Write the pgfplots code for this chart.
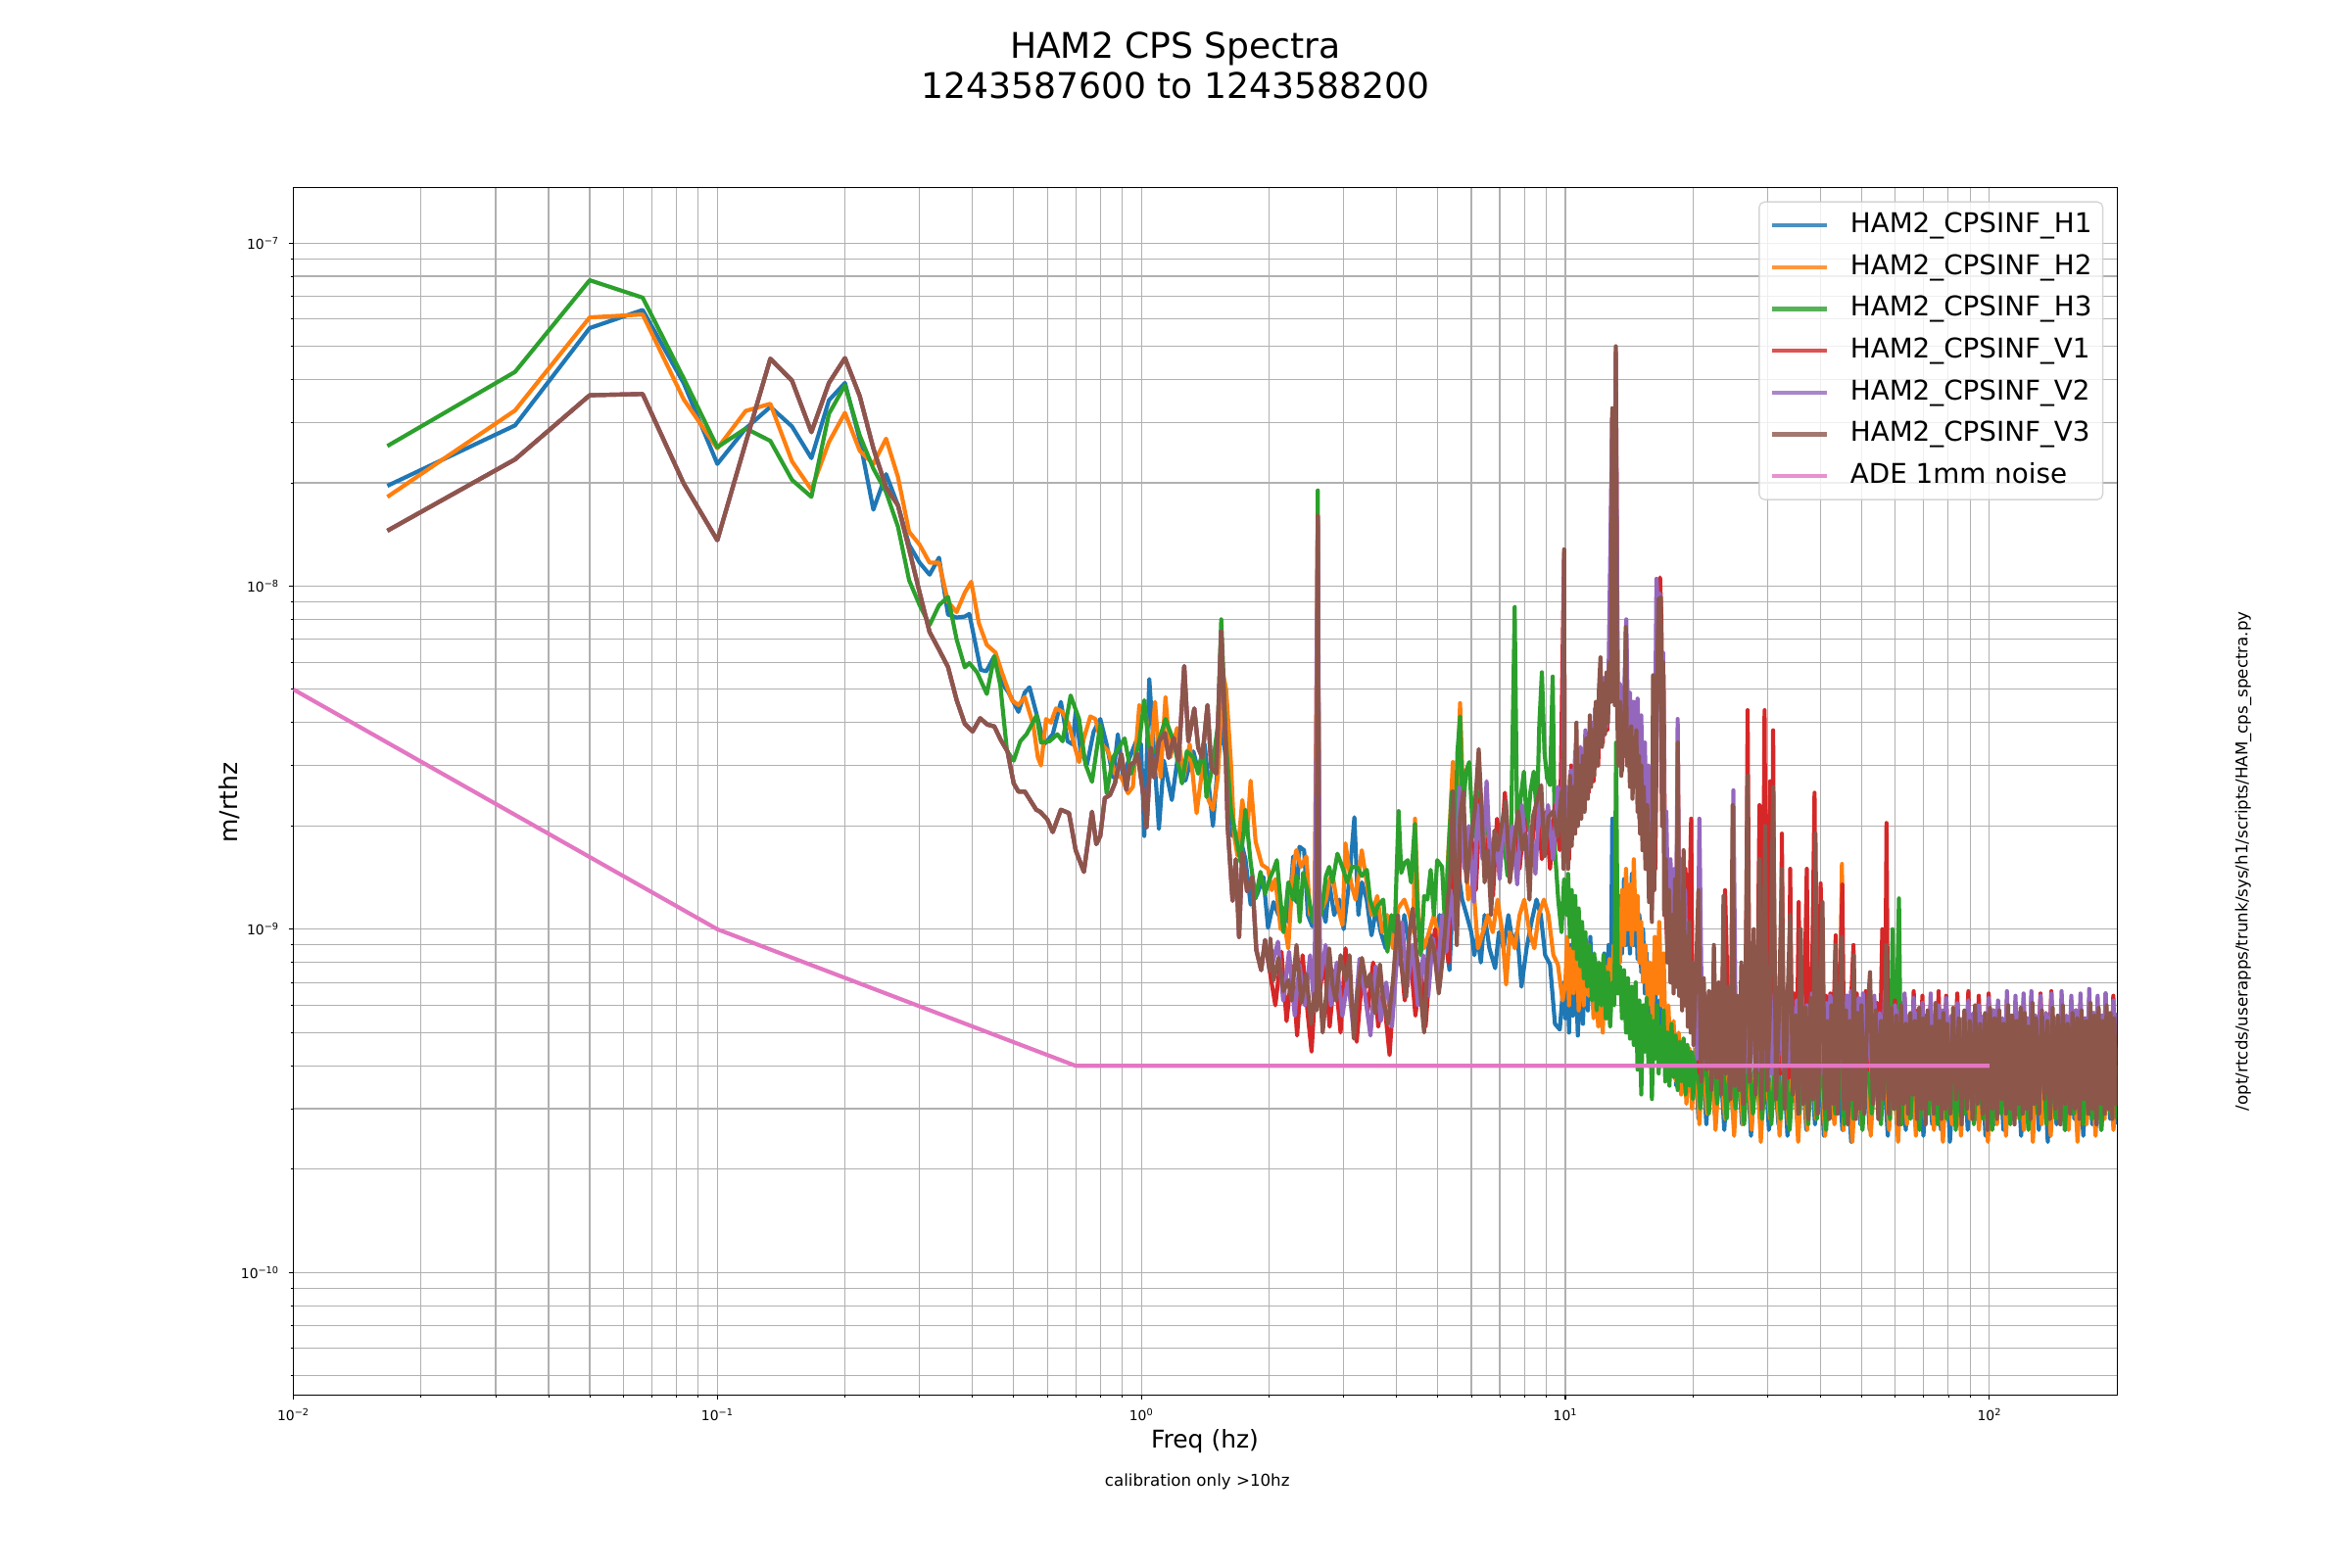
\documentclass[border=0pt]{standalone}
\usepackage{fontspec}
\setmainfont{DejaVu Sans}
\usepackage{pgfplots}
\pgfplotsset{compat=1.18}
\usepackage{pgfplotstable}
\definecolor{cH1}{HTML}{1F77B4}
\definecolor{cH2}{HTML}{FF7F0E}
\definecolor{cH3}{HTML}{2CA02C}
\definecolor{cV1}{HTML}{D62728}
\definecolor{cV2}{HTML}{9467BD}
\definecolor{cV3}{HTML}{8C564B}
\definecolor{cADE}{HTML}{E377C2}
\definecolor{gridc}{HTML}{B0B0B0}

\pgfplotstableread{
f v
0.016667 1.96e-8
0.033333 2.94e-8
0.05 5.65e-8
0.066667 6.38e-8
0.083333 3.9e-8
0.1 2.27e-8
0.116667 2.88e-8
0.133333 3.33e-8
0.15 2.92e-8
0.166667 2.36e-8
0.183333 3.48e-8
0.2 3.91e-8
0.216667 2.67e-8
0.233333 1.67e-8
0.25 2.12e-8
0.266667 1.72e-8
0.283333 1.32e-8
0.3 1.17e-8
0.316667 1.08e-8
0.333333 1.21e-8
0.35 8.26e-9
0.366667 8.1e-9
0.383333 8.15e-9
0.393 8.3e-9
0.418 5.7e-9
0.431 5.65e-9
0.45 6.25e-9
0.469 5.23e-9
0.486 4.9e-9
0.513 4.3e-9
0.531 4.9e-9
0.545 5.07e-9
0.57 4.1e-9
0.59 3.46e-9
0.618 3.7e-9
0.646 4.6e-9
0.67 3.53e-9
0.688 3.46e-9
0.70 4.3e-9
0.719 3.3e-9
0.745 3.03e-9
0.772 3.77e-9
0.80 4.1e-9
0.828 3.46e-9
0.858 2.77e-9
0.88 3.7e-9
0.905 2.77e-9
0.938 3.16e-9
0.972 3.53e-9
0.998 3.46e-9
1.016 1.87e-9
1.044 5.36e-9
1.071 3.3e-9
1.10 1.96e-9
1.13 3.1e-9
1.18 2.38e-9
1.224 3.3e-9
1.27 2.71e-9
1.326 3.3e-9
1.362 2.9e-9
1.41 3.46e-9
1.475 2.0e-9
1.515 3.03e-9
1.549 4.0e-9
1.598 2.77e-9
1.641 1.87e-9
1.70 1.9e-9
1.76 1.6e-9
1.81 1.18e-9
1.874 1.26e-9
1.94 1.42e-9
1.99 1.01e-9
2.05 1.2e-9
2.106 1.1e-9
2.163 1.15e-9
2.221 1.05e-9
2.281 1.63e-9
2.32 1.2e-9
2.36 1.74e-9
2.42 1.7e-9
2.47 1.1e-9
2.53 1.02e-9
2.59 1.1e-9
2.606 1.5e-8
2.625 1.1e-9
2.653 1.2e-9
2.72 1.05e-9
2.773 1.37e-9
2.85 1.1e-9
2.93 1.22e-9
3.0 1.0e-9
3.09 1.37e-9
3.18 2.12e-9
3.25 1.1e-9
3.313 1.37e-9
3.40 1.22e-9
3.49 9.6e-10
3.58 1.15e-9
3.67 9.8e-10
3.77 8.8e-10
3.87 9.2e-10
3.96 1.1e-9
4.07 7.9e-10
4.17 1.1e-9
4.29 8.8e-10
4.41 7.1e-10
4.52 7.9e-10
4.65 5.7e-10
4.77 9.8e-10
4.91 8.8e-10
5.05 1.1e-9
5.20 9.8e-10
5.33 7.6e-10
5.45 1.37e-9
5.57 1.52e-9
5.71 1.22e-9
5.85 1.1e-9
6.0 9.8e-10
6.10 8.4e-10
6.2 9.6e-10
6.32 8.0e-10
6.45 1.1e-9
6.62 8.8e-10
6.83 7.7e-10
6.97 9.8e-10
7.15 8.8e-10
7.34 1.1e-9
7.5 9.2e-10
7.7 9.8e-10
7.88 6.8e-10
8.1 8.8e-10
8.32 1.05e-9
8.55 1.22e-9
8.75 1.1e-9
8.96 8.4e-10
9.2 7.9e-10
9.45 5.3e-10
9.7 5.1e-10
9.9 7.0e-10
10.0 5.5e-10
10.1 8.0e-10
10.2 5.0e-10
10.3 9.0e-10
10.42 5.6e-10
10.55 8.4e-10
10.7 4.9e-10
10.85 7.6e-10
11.0 5.3e-10
11.15 8.8e-10
11.3 5.8e-10
11.45 9.5e-10
11.6 6.2e-10
11.75 8.2e-10
11.9 5.5e-10
12.05 7.8e-10
12.2 5.2e-10
12.35 8.5e-10
12.5 6.0e-10
12.65 9.0e-10
12.8 6.5e-10
12.9 2.1e-9
13.0 7.0e-10
13.15 9.5e-10
13.3 8.0e-10
13.45 1.25e-9
13.6 8.5e-10
13.75 1.4e-9
13.9 9.0e-10
14.05 1.3e-9
14.2 8.5e-10
14.35 1.45e-9
14.5 9.0e-10
14.65 1.2e-9
14.8 8.2e-10
14.95 1.1e-9
15.1 7.5e-10
15.25 1.0e-9
15.4 6.5e-10
15.55 8.5e-10
15.7 5.5e-10
15.9 7.5e-10
16.1 5.0e-10
16.3 6.8e-10
16.5 4.5e-10
16.7 6.2e-10
16.9 4.2e-10
17.1 5.8e-10
17.3 4.0e-10
17.5 5.5e-10
17.75 3.8e-10
18.0 5.2e-10
18.25 3.5e-10
18.5 4.8e-10
18.75 3.4e-10
19.0 4.6e-10
19.3 3.3e-10
19.6 4.4e-10
19.9 3.2e-10
20.2 4.4e-10
20.6 2.8e-10
21.0 4.6e-10
21.5 2.7e-10
22.0 4.3e-10
22.5 2.9e-10
23.1 4.5e-10
23.7 2.6e-10
24.3 4.4e-10
24.9 2.8e-10
25.5 4.2e-10
26.1 2.7e-10
26.7 4.6e-10
27.4 2.5e-10
28.1 4.3e-10
28.8 2.8e-10
29.5 4.4e-10
30.2 2.6e-10
31.0 4.2e-10
31.8 2.7e-10
32.6 4.5e-10
33.4 2.5e-10
34.3 4.3e-10
35.2 2.8e-10
36.1 4.4e-10
37.0 2.6e-10
37.9 4.2e-10
38.8 2.7e-10
39.7 4.5e-10
40.7 2.5e-10
41.7 4.3e-10
42.8 2.8e-10
43.9 4.4e-10
45.0 2.6e-10
46.1 4.2e-10
47.2 2.4e-10
48.4 4.5e-10
49.6 2.7e-10
50.9 4.3e-10
52.2 2.6e-10
53.5 4.4e-10
54.8 2.8e-10
56.2 4.2e-10
57.6 2.5e-10
59.0 4.5e-10
60.5 2.7e-10
62.0 4.3e-10
63.5 2.6e-10
65.0 4.4e-10
66.6 2.8e-10
68.2 4.2e-10
69.9 2.5e-10
71.6 4.5e-10
73.3 2.7e-10
75.1 4.3e-10
76.9 2.6e-10
78.8 4.4e-10
80.7 2.4e-10
82.7 4.2e-10
84.7 2.7e-10
86.8 4.5e-10
88.9 2.6e-10
91.1 4.3e-10
93.3 2.8e-10
95.6 4.4e-10
97.9 2.5e-10
100.3 4.2e-10
102.8 2.7e-10
105.3 4.5e-10
107.9 2.6e-10
110.5 4.3e-10
113.2 2.8e-10
116.0 4.4e-10
118.8 2.5e-10
121.7 4.2e-10
124.7 2.7e-10
127.7 4.5e-10
130.8 2.6e-10
134.0 4.3e-10
137.3 2.4e-10
140.6 4.4e-10
144.0 2.7e-10
147.5 4.2e-10
151.1 2.6e-10
154.8 4.5e-10
158.6 2.8e-10
162.5 4.3e-10
166.5 2.5e-10
170.6 4.4e-10
174.8 2.7e-10
179.1 4.2e-10
183.5 2.6e-10
188.0 4.5e-10
192.6 2.8e-10
197.3 4.3e-10
200 2.7e-10
}\Hone

\pgfplotstableread{
f v
0.016667 1.82e-8
0.033333 3.25e-8
0.05 6.07e-8
0.066667 6.19e-8
0.083333 3.5e-8
0.1 2.52e-8
0.116667 3.24e-8
0.133333 3.4e-8
0.15 2.31e-8
0.166667 1.91e-8
0.183333 2.63e-8
0.2 3.2e-8
0.216667 2.48e-8
0.233333 2.27e-8
0.25 2.69e-8
0.266667 2.08e-8
0.283333 1.44e-8
0.3 1.32e-8
0.316667 1.17e-8
0.333333 1.17e-8
0.35 9.0e-9
0.366667 8.4e-9
0.383333 9.57e-9
0.397 1.03e-8
0.414 7.78e-9
0.432 6.74e-9
0.453 6.4e-9
0.469 5.6e-9
0.495 4.65e-9
0.513 4.5e-9
0.531 4.75e-9
0.556 3.94e-9
0.57 3.17e-9
0.58 3.0e-9
0.596 4.1e-9
0.612 4.0e-9
0.629 4.4e-9
0.652 4.3e-9
0.675 3.94e-9
0.694 3.46e-9
0.713 3.07e-9
0.732 3.6e-9
0.758 4.17e-9
0.779 4.1e-9
0.806 3.46e-9
0.835 3.3e-9
0.866 2.84e-9
0.897 2.77e-9
0.93 2.49e-9
0.955 2.6e-9
0.989 4.5e-9
1.025 4.2e-9
1.053 3.17e-9
1.077 4.6e-9
1.11 2.77e-9
1.14 4.75e-9
1.17 3.17e-9
1.214 3.86e-9
1.258 2.77e-9
1.30 3.46e-9
1.35 2.18e-9
1.40 3.1e-9
1.44 2.38e-9
1.475 2.23e-9
1.515 2.77e-9
1.556 5.6e-9
1.585 5.0e-9
1.627 3.03e-9
1.656 1.87e-9
1.685 1.64e-9
1.73 2.38e-9
1.776 1.87e-9
1.81 2.71e-9
1.86 1.8e-9
1.925 1.54e-9
1.99 1.5e-9
2.03 1.3e-9
2.07 1.4e-9
2.13 1.0e-9
2.16 1.1e-9
2.22 8.8e-10
2.28 1.52e-9
2.32 1.7e-9
2.38 1.52e-9
2.45 1.63e-9
2.50 1.1e-9
2.56 1.1e-9
2.606 1.5e-8
2.63 1.1e-9
2.725 1.22e-9
2.77 1.37e-9
2.82 1.46e-9
2.90 1.17e-9
2.98 1.03e-9
3.03 1.78e-9
3.12 1.37e-9
3.20 1.22e-9
3.31 1.70e-9
3.40 1.37e-9
3.49 1.10e-9
3.60 1.25e-9
3.70 9.8e-10
3.80 1.1e-9
3.92 8.8e-10
4.03 1.15e-9
4.17 1.22e-9
4.29 1.10e-9
4.38 9.8e-10
4.42 2.1e-9
4.50 1.1e-9
4.64 8.8e-10
4.77 9.8e-10
4.90 1.1e-9
5.08 8.8e-10
5.20 1.1e-9
5.35 2.12e-9
5.428 3.07e-9
5.50 1.70e-9
5.645 4.56e-9
5.76 2.12e-9
5.90 1.22e-9
6.06 1.37e-9
6.22 8.8e-10
6.39 9.8e-10
6.57 1.1e-9
6.74 9.8e-10
6.92 1.22e-9
7.10 9.8e-10
7.25 6.9e-10
7.40 9.8e-10
7.60 8.8e-10
7.80 1.1e-9
8.00 1.22e-9
8.23 9.8e-10
8.45 8.8e-10
8.65 1.1e-9
8.90 1.22e-9
9.12 1.1e-9
9.37 8.4e-10
9.6 7.9e-10
9.85 6.2e-10
10.0 7.0e-10
10.1 9.5e-10
10.2 6.0e-10
10.32 8.8e-10
10.45 6.5e-10
10.6 9.8e-10
10.75 5.8e-10
10.9 8.6e-10
11.05 6.0e-10
11.2 9.2e-10
11.35 6.4e-10
11.5 8.0e-10
11.65 5.5e-10
11.8 7.5e-10
11.95 5.2e-10
12.1 7.2e-10
12.25 5.0e-10
12.4 7.8e-10
12.55 5.5e-10
12.7 8.2e-10
12.85 6.2e-10
13.0 9.0e-10
13.15 7.0e-10
13.3 1.1e-9
13.45 8.0e-10
13.6 1.3e-9
13.75 9.0e-10
13.9 1.5e-9
14.05 1.0e-9
14.2 1.35e-9
14.35 9.0e-10
14.5 1.6e-9
14.65 1.0e-9
14.8 1.25e-9
14.95 8.0e-10
15.1 1.05e-9
15.25 7.0e-10
15.45 9.0e-10
15.65 6.0e-10
15.85 8.0e-10
16.05 5.5e-10
16.25 9.5e-10
16.45 6.5e-10
16.65 1.05e-9
16.85 6.0e-10
17.05 8.5e-10
17.25 4.5e-10
17.5 6.0e-10
17.75 3.9e-10
18.0 5.4e-10
18.25 3.6e-10
18.5 5.0e-10
18.75 3.3e-10
19.0 4.8e-10
19.3 3.1e-10
19.6 4.5e-10
19.9 3.0e-10
20.3 4.5e-10
20.7 2.7e-10
21.1 4.3e-10
21.6 2.9e-10
22.1 4.6e-10
22.6 2.6e-10
23.2 4.4e-10
23.8 2.8e-10
24.4 4.2e-10
25.0 2.5e-10
25.6 4.5e-10
26.2 2.7e-10
26.9 4.3e-10
27.5 2.6e-10
28.2 4.4e-10
28.9 2.4e-10
29.6 4.2e-10
30.4 2.8e-10
31.2 4.5e-10
32.0 2.5e-10
32.8 4.3e-10
33.6 2.7e-10
34.5 4.4e-10
35.4 2.4e-10
36.3 4.2e-10
37.2 2.6e-10
38.1 4.5e-10
39.0 2.8e-10
40.0 4.3e-10
41.0 2.5e-10
42.0 4.4e-10
43.1 2.7e-10
44.2 4.2e-10
44.9 1.55e-9
45.3 2.6e-10
46.4 4.5e-10
47.5 2.4e-10
48.7 4.3e-10
49.9 2.7e-10
51.2 4.4e-10
52.5 2.5e-10
53.8 4.2e-10
55.2 2.8e-10
56.6 4.5e-10
58.0 2.6e-10
59.4 4.3e-10
60.9 2.4e-10
62.4 4.4e-10
63.9 2.7e-10
65.5 4.2e-10
67.1 2.5e-10
68.8 4.5e-10
70.5 2.8e-10
72.2 4.3e-10
74.0 2.6e-10
75.8 4.4e-10
77.7 2.4e-10
79.6 4.2e-10
81.6 2.7e-10
83.6 4.5e-10
85.7 2.5e-10
87.8 4.3e-10
90.0 2.8e-10
92.2 4.4e-10
94.5 2.6e-10
96.8 4.2e-10
99.2 2.4e-10
101.7 4.5e-10
104.2 2.7e-10
106.8 4.3e-10
109.4 2.5e-10
112.1 4.4e-10
114.9 2.8e-10
117.7 4.2e-10
120.6 2.6e-10
123.6 4.5e-10
126.6 2.4e-10
129.7 4.3e-10
132.9 2.7e-10
136.2 4.4e-10
139.5 2.5e-10
142.9 4.2e-10
146.4 2.8e-10
150.0 4.5e-10
153.7 2.6e-10
157.5 4.3e-10
161.4 2.4e-10
165.4 4.4e-10
169.5 2.7e-10
173.7 4.2e-10
178.0 2.5e-10
182.4 4.5e-10
186.9 2.8e-10
191.5 4.3e-10
196.2 2.6e-10
200 4.0e-10
}\Htwo

\pgfplotstableread{
f v
0.016667 2.56e-8
0.033333 4.21e-8
0.05 7.79e-8
0.066667 6.93e-8
0.083333 4.03e-8
0.1 2.54e-8
0.116667 2.88e-8
0.133333 2.65e-8
0.15 2.04e-8
0.166667 1.82e-8
0.183333 3.18e-8
0.2 3.85e-8
0.216667 2.75e-8
0.233333 2.2e-8
0.25 1.88e-8
0.266667 1.49e-8
0.283333 1.04e-8
0.3 8.8e-9
0.316667 7.7e-9
0.333333 8.8e-9
0.35 9.3e-9
0.366667 7.0e-9
0.383333 5.8e-9
0.393 5.97e-9
0.41 5.6e-9
0.432 4.85e-9
0.45 6.25e-9
0.465 5.13e-9
0.482 3.31e-9
0.50 3.1e-9
0.518 3.53e-9
0.536 3.7e-9
0.566 4.2e-9
0.58 3.5e-9
0.607 3.53e-9
0.634 3.7e-9
0.652 3.53e-9
0.681 4.8e-9
0.713 4.1e-9
0.738 3.03e-9
0.765 2.69e-9
0.80 3.94e-9
0.828 2.49e-9
0.858 3.17e-9
0.913 3.6e-9
0.946 2.84e-9
0.989 3.53e-9
1.016 4.65e-9
1.044 3.3e-9
1.081 3.3e-9
1.14 4.1e-9
1.192 3.53e-9
1.247 2.66e-9
1.28 3.3e-9
1.326 3.17e-9
1.362 2.84e-9
1.40 3.46e-9
1.424 2.43e-9
1.475 3.03e-9
1.515 3.94e-9
1.543 8.0e-9
1.585 3.46e-9
1.627 2.23e-9
1.67 1.87e-9
1.715 1.57e-9
1.76 2.23e-9
1.81 1.57e-9
1.86 1.23e-9
1.91 1.47e-9
1.958 1.27e-9
2.01 1.41e-9
2.05 1.49e-9
2.087 1.59e-9
2.163 9.8e-10
2.221 1.37e-9
2.281 1.22e-9
2.322 1.43e-9
2.364 1.05e-9
2.406 1.46e-9
2.471 1.28e-9
2.537 1.05e-9
2.59 1.3e-9
2.606 1.9e-8
2.625 1.3e-9
2.653 1.10e-9
2.725 1.43e-9
2.773 1.52e-9
2.823 1.37e-9
2.900 1.66e-9
2.978 1.52e-9
3.058 1.37e-9
3.141 1.52e-9
3.226 1.52e-9
3.313 1.43e-9
3.402 1.49e-9
3.463 1.22e-9
3.557 1.10e-9
3.61 1.17e-9
3.719 1.22e-9
3.805 8.6e-10
3.888 1.10e-9
3.958 9.8e-10
4.043 2.21e-9
4.101 1.46e-9
4.174 1.56e-9
4.249 1.59e-9
4.325 1.37e-9
4.417 2.03e-9
4.481 1.10e-9
4.561 8.4e-10
4.644 1.25e-9
4.727 1.22e-9
4.811 1.49e-9
4.897 1.10e-9
4.985 1.59e-9
5.119 1.52e-9
5.211 9.8e-10
5.304 1.70e-9
5.398 2.52e-9
5.495 1.78e-9
5.564 3.28e-9
5.645 4.17e-9
5.726 2.12e-9
5.828 2.88e-9
5.933 3.07e-9
6.060 1.86e-9
6.169 2.63e-9
6.281 1.94e-9
6.393 1.63e-9
6.508 2.31e-9
6.624 1.78e-9
6.743 1.43e-9
6.864 1.86e-9
6.988 1.52e-9
7.112 2.03e-9
7.304 1.43e-9
7.435 1.70e-9
7.595 8.69e-9
7.705 1.70e-9
7.843 2.41e-9
7.984 2.88e-9
8.127 1.94e-9
8.271 2.52e-9
8.420 2.88e-9
8.570 2.12e-9
8.678 3.91e-9
8.802 5.61e-9
8.927 3.28e-9
9.055 2.75e-9
9.202 2.63e-9
9.333 5.45e-9
9.449 1.70e-9
9.619 1.22e-9
9.792 9.8e-10
9.93 1.4e-9
10.06 1.1e-9
10.15 1.45e-9
10.25 9.5e-10
10.35 1.3e-9
10.45 8.8e-10
10.55 1.25e-9
10.65 8.2e-10
10.75 1.15e-9
10.85 7.8e-10
10.95 1.05e-9
11.05 7.2e-10
11.15 9.8e-10
11.25 6.8e-10
11.4 9.0e-10
11.55 6.2e-10
11.7 8.5e-10
11.85 5.8e-10
12.0 8.0e-10
12.15 6.0e-10
12.3 8.4e-10
12.45 5.5e-10
12.6 7.5e-10
12.75 5.2e-10
12.9 7.0e-10
13.05 6.0e-10
13.17 3.5e-9
13.3 6.5e-10
13.45 7.8e-10
13.6 5.5e-10
13.75 7.6e-10
13.9 5.0e-10
14.05 7.2e-10
14.2 4.8e-10
14.35 6.8e-10
14.5 4.6e-10
14.65 7.0e-10
14.8 3.9e-10
14.95 6.2e-10
15.1 3.3e-10
15.25 6.0e-10
15.4 4.4e-10
15.55 6.3e-10
15.7 4.0e-10
15.85 5.6e-10
16.0 3.2e-10
16.15 5.4e-10
16.3 4.2e-10
16.45 6.0e-10
16.6 3.8e-10
16.75 5.2e-10
16.9 4.0e-10
17.05 5.8e-10
17.2 3.6e-10
17.4 5.0e-10
17.6 3.5e-10
17.8 5.3e-10
18.0 3.7e-10
18.2 4.9e-10
18.4 3.4e-10
18.6 4.7e-10
18.8 3.6e-10
19.0 4.8e-10
19.2 3.3e-10
19.4 4.6e-10
19.6 3.5e-10
19.8 4.4e-10
20.0 3.2e-10
20.4 4.6e-10
20.8 3.0e-10
21.3 4.8e-10
21.8 2.9e-10
22.3 4.4e-10
22.8 3.1e-10
23.4 4.7e-10
24.0 2.8e-10
24.6 4.5e-10
25.2 3.0e-10
25.8 4.3e-10
26.4 2.7e-10
27.0 4.6e-10
27.7 2.9e-10
28.4 4.4e-10
29.1 2.8e-10
29.8 4.2e-10
30.6 2.7e-10
31.4 4.5e-10
32.2 2.8e-10
33.0 4.3e-10
33.8 2.6e-10
34.7 4.4e-10
35.6 2.9e-10
36.5 4.2e-10
37.4 2.7e-10
38.3 4.6e-10
39.2 2.8e-10
40.2 4.3e-10
41.2 2.6e-10
42.2 4.4e-10
43.3 2.9e-10
44.4 4.2e-10
45.5 2.7e-10
46.6 4.5e-10
47.8 2.8e-10
49.0 4.3e-10
50.2 2.6e-10
51.5 4.4e-10
52.8 2.9e-10
54.1 4.2e-10
55.5 2.7e-10
56.9 4.6e-10
58.3 2.8e-10
59.1 1.0e-9
59.8 3.0e-10
61.2 1.23e-9
62.0 2.7e-10
63.5 4.3e-10
65.1 2.8e-10
66.7 4.4e-10
68.4 2.6e-10
70.1 4.2e-10
71.9 2.9e-10
73.7 4.5e-10
75.5 2.7e-10
77.4 4.3e-10
79.3 2.8e-10
81.3 4.4e-10
83.3 2.6e-10
85.4 4.2e-10
87.5 2.9e-10
89.7 4.5e-10
91.9 2.7e-10
94.2 4.3e-10
96.6 2.8e-10
99.0 4.4e-10
101.5 2.6e-10
104.0 4.2e-10
106.6 2.9e-10
109.3 4.5e-10
112.0 2.7e-10
114.8 4.3e-10
117.7 2.8e-10
120.6 4.4e-10
123.6 2.6e-10
126.7 4.2e-10
129.9 2.9e-10
133.1 4.5e-10
136.4 2.7e-10
139.8 4.3e-10
143.3 2.8e-10
146.9 4.4e-10
150.6 2.6e-10
154.4 4.2e-10
158.3 2.9e-10
162.3 4.5e-10
166.4 2.7e-10
170.5 4.3e-10
174.8 2.8e-10
179.2 4.4e-10
183.7 2.6e-10
188.3 4.2e-10
193.0 2.9e-10
197.8 4.5e-10
200 2.8e-10
}\Hthree

\pgfplotstableread{
f v
0.016667 1.45e-8
0.033333 2.34e-8
0.05 3.6e-8
0.066667 3.63e-8
0.083333 1.99e-8
0.1 1.36e-8
0.116667 2.62e-8
0.133333 4.6e-8
0.15 3.97e-8
0.166667 2.81e-8
0.183333 3.91e-8
0.2 4.62e-8
0.216667 3.58e-8
0.233333 2.52e-8
0.25 1.94e-8
0.266667 1.72e-8
0.283333 1.28e-8
0.3 9.57e-9
0.316667 7.35e-9
0.333333 6.53e-9
0.35 5.81e-9
0.366667 4.66e-9
0.383333 3.97e-9
0.4 3.77e-9
0.416667 4.12e-9
0.433333 3.95e-9
0.45 3.9e-9
0.466667 3.55e-9
0.483333 3.3e-9
0.5 2.66e-9
0.513 2.52e-9
0.531 2.52e-9
0.565 2.23e-9
0.577 2.2e-9
0.60 2.09e-9
0.618 1.92e-9
0.646 2.23e-9
0.675 2.18e-9
0.70 1.70e-9
0.732 1.47e-9
0.765 2.2e-9
0.783 1.77e-9
0.80 1.87e-9
0.82 2.41e-9
0.843 2.46e-9
0.866 2.66e-9
0.897 3.24e-9
0.922 2.55e-9
0.938 3.0e-9
0.963 3.07e-9
0.98 3.24e-9
1.007 2.55e-9
1.029 1.98e-9
1.053 3.38e-9
1.071 2.77e-9
1.1 3.53e-9
1.136 3.73e-9
1.16 3.16e-9
1.192 3.61e-9
1.224 3.1e-9
1.262 5.85e-9
1.291 3.53e-9
1.333 4.4e-9
1.362 3.38e-9
1.392 3.16e-9
1.432 4.5e-9
1.462 2.96e-9
1.502 2.84e-9
1.543 7.36e-9
1.576 3.77e-9
1.598 2.0e-9
1.641 1.21e-9
1.67 1.6e-9
1.70 9.5e-10
1.73 1.67e-9
1.776 1.29e-9
1.825 1.42e-9
1.867 8.7e-10
1.917 7.6e-10
1.958 9.3e-10
2.01 7.5e-10
}\Vlow

\pgfplotstableread{
f v
2.01 7.5e-10
2.07 6.0e-10
2.14 8.6e-10
2.2 5.4e-10
2.27 7.8e-10
2.33 4.9e-10
2.40 8.4e-10
2.47 5.6e-10
2.52 4.4e-10
2.58 7.2e-10
2.606 1.6e-8
2.63 6.5e-10
2.70 8.2e-10
2.78 5.2e-10
2.86 7.6e-10
2.95 5.0e-10
3.03 8.8e-10
3.12 6.2e-10
3.22 4.7e-10
3.32 7.4e-10
3.42 5.8e-10
3.52 8.0e-10
3.62 5.2e-10
3.72 6.6e-10
3.85 4.3e-10
3.95 7.0e-10
4.05 9.6e-10
4.18 6.2e-10
4.30 8.6e-10
4.43 5.6e-10
4.56 7.8e-10
4.68 5.2e-10
4.80 8.0e-10
4.93 1.0e-9
5.05 6.8e-10
5.18 1.05e-9
5.30 8.0e-10
5.42 1.5e-9
5.55 1.05e-9
5.7 2.0e-9
5.85 1.4e-9
6.0 1.9e-9
6.15 1.3e-9
6.3 2.4e-9
6.45 1.5e-9
6.6 1.9e-9
6.75 1.25e-9
6.9 2.1e-9
7.05 1.6e-9
7.2 2.5e-9
7.4 1.45e-9
7.6 1.9e-9
7.8 1.5e-9
8.0 2.1e-9
8.2 1.4e-9
8.4 1.9e-9
8.6 2.4e-9
8.8 1.6e-9
9.0 2.2e-9
9.2 1.5e-9
9.45 2.3e-9
9.7 1.7e-9
9.93 1.25e-8
9.96 1.6e-9
10.1 2.4e-9
10.2 1.6e-9
10.32 3.0e-9
10.45 1.9e-9
10.6 3.6e-9
10.75 2.1e-9
10.9 3.2e-9
11.05 2.3e-9
11.2 3.4e-9
11.35 2.5e-9
11.5 4.0e-9
11.65 2.7e-9
11.8 4.2e-9
11.95 3.0e-9
12.1 5.8e-9
12.25 3.5e-9
12.4 5.0e-9
12.55 3.8e-9
12.7 5.5e-9
12.9 3.2e-8
13.0 5.2e-9
13.15 4.8e-8
13.3 3.8e-9
13.45 4.4e-9
13.6 2.9e-9
13.75 4.0e-9
13.92 7.0e-9
14.05 3.2e-9
14.2 4.2e-9
14.35 2.7e-9
14.5 4.0e-9
14.65 2.6e-9
14.8 3.6e-9
14.95 2.1e-9
15.1 3.3e-9
15.25 1.8e-9
15.4 2.9e-9
15.6 1.6e-9
15.8 2.2e-9
16.0 1.2e-9
16.15 5.2e-9
16.3 1.5e-9
16.5 7.0e-9
16.6 9.5e-9
16.72 1.06e-8
16.85 8.0e-9
16.95 2.2e-9
17.05 5.5e-9
17.2 1.2e-9
17.4 9.0e-10
17.6 1.4e-9
17.8 7.5e-10
18.0 1.2e-9
18.2 7.0e-10
18.42 3.3e-9
18.6 7.2e-10
18.8 1.3e-9
19.0 6.5e-10
19.2 1.5e-9
19.4 6.0e-10
19.6 1.1e-9
19.8 2.1e-9
19.95 6.0e-10
20.15 5.8e-10
20.75 3.8e-10
21.35 6.3e-10
21.95 4.0e-10
22.55 6.6e-10
23.15 3.7e-10
23.8 1.3e-9
24.35 4.2e-10
24.95 6.4e-10
25.55 3.9e-10
26.15 6.9e-10
26.6 4.1e-10
26.9 4.35e-9
27.2 4.0e-10
27.65 6.5e-10
28.25 3.8e-10
28.7 2.3e-9
29.1 4.0e-10
29.5 4.35e-9
29.8 4.2e-10
30.4 2.7e-9
30.65 4.4e-10
30.9 3.8e-9
31.2 4.0e-10
31.65 6.2e-10
32.15 3.8e-10
32.4 1.9e-9
32.7 4.3e-10
33.15 6.4e-10
33.65 3.7e-10
33.9 1.5e-9
34.2 4.1e-10
34.65 6.5e-10
35.15 3.9e-10
35.5 1.2e-9
35.9 4.2e-10
36.65 6.3e-10
37.1 1.5e-9
37.5 3.8e-10
38.15 6.6e-10
38.7 2.5e-9
39.1 4.0e-10
39.65 6.1e-10
40.0 1.36e-9
40.4 3.9e-10
41.15 6.4e-10
41.65 3.7e-10
42.15 6.5e-10
42.65 4.0e-10
43.4 9.6e-10
43.9 3.9e-10
44.4 6.2e-10
45.0 1.35e-9
45.4 4.1e-10
46.15 6.4e-10
46.65 3.8e-10
47.15 6.0e-10
47.8 9.0e-10
48.15 4.0e-10
48.65 6.5e-10
49.15 3.7e-10
49.65 6.2e-10
50.3 4.1e-10
51.1 6.6e-10
51.9 3.9e-10
52.7 5.6e-10
53.5 4.0e-10
54.3 6.1e-10
55.1 3.8e-10
55.9 1.0e-9
56.7 4.1e-10
57.2 2.04e-9
57.7 3.9e-10
58.3 5.7e-10
59.1 3.8e-10
59.9 6.2e-10
60.7 4.0e-10
61.5 5.5e-10
62.3 3.7e-10
63.1 6.3e-10
63.9 4.1e-10
64.7 5.6e-10
65.5 3.9e-10
66.3 6.6e-10
67.1 3.8e-10
67.9 5.8e-10
68.7 4.0e-10
69.5 6.4e-10
70.3 3.7e-10
71.1 5.6e-10
71.9 4.1e-10
72.7 6.1e-10
73.5 3.9e-10
74.3 5.5e-10
75.1 3.8e-10
75.9 6.6e-10
76.7 4.0e-10
77.5 5.7e-10
78.3 3.9e-10
79.1 6.4e-10
80.1 3.7e-10
81.4 5.6e-10
82.7 4.1e-10
84.0 6.5e-10
85.3 3.8e-10
86.6 5.5e-10
87.9 4.0e-10
89.2 6.6e-10
90.5 3.9e-10
91.8 5.7e-10
93.1 3.8e-10
94.4 6.4e-10
95.7 4.1e-10
97.0 5.6e-10
98.3 3.7e-10
99.6 6.5e-10
100.9 4.0e-10
102.2 5.8e-10
103.5 3.9e-10
104.8 6.0e-10
106.1 3.8e-10
107.4 5.5e-10
108.7 4.1e-10
110.0 6.2e-10
111.3 3.9e-10
112.6 5.6e-10
113.9 3.7e-10
115.2 6.1e-10
116.5 4.0e-10
117.8 5.7e-10
119.1 3.8e-10
120.4 6.3e-10
121.7 4.1e-10
123.0 5.5e-10
124.3 3.9e-10
125.6 6.4e-10
126.9 3.8e-10
128.2 5.6e-10
130 4.0e-10
132 6.5e-10
134 3.7e-10
136 5.7e-10
138 4.1e-10
140 6.6e-10
142 3.9e-10
144 5.5e-10
146 3.8e-10
148 6.0e-10
150 4.0e-10
152 5.6e-10
154 3.9e-10
156 6.2e-10
158 3.7e-10
160 5.8e-10
162 4.1e-10
164 6.1e-10
166 3.8e-10
168 5.5e-10
170 4.0e-10
172 6.2e-10
174 3.9e-10
176 5.7e-10
178 3.7e-10
180 6.0e-10
182 4.1e-10
184 5.6e-10
186 3.8e-10
188 6.5e-10
190 4.0e-10
192 5.5e-10
194 3.9e-10
196 6.4e-10
198 3.8e-10
200 5.7e-10
}\Vonehigh

\pgfplotstableread{
f v
2.01 7.5e-10
2.04 8.0e-10
2.10 9.2e-10
2.16 6.2e-10
2.23 8.6e-10
2.30 5.6e-10
2.36 7.9e-10
2.43 6.0e-10
2.50 8.4e-10
2.56 5.8e-10
2.606 1.55e-8
2.64 7.0e-10
2.72 9.0e-10
2.80 6.0e-10
2.89 8.0e-10
2.98 5.6e-10
3.07 7.2e-10
3.17 5.0e-10
3.27 8.2e-10
3.37 6.4e-10
3.47 4.9e-10
3.57 7.8e-10
3.67 5.4e-10
3.78 7.0e-10
3.90 5.2e-10
4.0 8.0e-10
4.12 1.05e-9
4.24 6.8e-10
4.36 9.0e-10
4.49 6.0e-10
4.62 8.4e-10
4.75 6.4e-10
4.87 9.4e-10
5.0 7.4e-10
5.12 1.1e-9
5.24 8.6e-10
5.36 1.3e-9
5.48 1.0e-9
5.62 2.6e-9
5.78 1.5e-9
5.92 2.0e-9
6.08 1.2e-9
6.22 2.3e-9
6.38 1.6e-9
6.52 2.7e-9
6.68 1.35e-9
6.84 1.9e-9
7.0 1.4e-9
7.15 2.2e-9
7.32 1.6e-9
7.5 2.0e-9
7.7 1.35e-9
7.9 2.3e-9
8.1 1.6e-9
8.3 2.0e-9
8.5 1.45e-9
8.7 2.5e-9
8.9 1.8e-9
9.1 2.3e-9
9.35 1.6e-9
9.6 2.6e-9
9.85 1.9e-9
9.93 1.2e-8
9.96 1.6e-9
10.05 2.6e-9
10.18 1.7e-9
10.3 2.9e-9
10.42 2.0e-9
10.55 3.3e-9
10.7 2.2e-9
10.85 3.4e-9
11.0 2.4e-9
11.15 3.8e-9
11.3 2.6e-9
11.45 4.0e-9
11.6 2.8e-9
11.75 4.4e-9
11.9 3.1e-9
12.05 5.2e-9
12.2 3.6e-9
12.35 5.4e-9
12.5 3.9e-9
12.65 5.8e-9
12.9 3.1e-8
13.0 5.0e-9
13.15 4.6e-8
13.3 4.5e-9
13.45 5.2e-9
13.6 3.4e-9
13.75 4.6e-9
13.92 8.0e-9
14.05 3.9e-9
14.2 4.9e-9
14.35 3.3e-9
14.5 4.6e-9
14.65 3.0e-9
14.8 4.7e-9
14.95 2.6e-9
15.1 4.2e-9
15.25 2.2e-9
15.4 3.5e-9
15.55 1.8e-9
15.7 3.0e-9
15.85 1.5e-9
16.0 2.5e-9
16.15 1.3e-9
16.4 1.05e-8
16.55 8.5e-9
16.7 9.5e-9
16.85 2.5e-9
17.0 6.4e-9
17.15 1.5e-9
17.3 2.2e-9
17.5 9.5e-10
17.7 1.6e-9
17.9 8.2e-10
18.1 1.5e-9
18.25 8.0e-10
18.4 4.1e-9
18.55 7.5e-10
18.75 1.6e-9
18.95 7.0e-10
19.15 1.3e-9
19.35 6.5e-10
19.55 1.0e-9
19.75 6.2e-10
20.0 8.0e-10
20.45 4.2e-10
20.7 2.1e-9
21.05 4.0e-10
21.65 6.4e-10
22.25 3.9e-10
22.85 6.1e-10
23.45 4.1e-10
24.05 6.5e-10
24.6 4.0e-10
24.9 2.54e-9
25.25 4.2e-10
25.85 6.3e-10
26.45 3.8e-10
27.05 6.6e-10
27.35 4.1e-10
27.95 6.2e-10
28.55 3.9e-10
29.15 8.0e-10
29.75 4.0e-10
30.15 6.4e-10
30.65 3.8e-10
31.15 6.5e-10
31.65 4.1e-10
32.15 6.1e-10
32.65 3.9e-10
33.15 6.6e-10
33.65 4.0e-10
34.15 6.3e-10
34.65 3.7e-10
35.15 6.2e-10
35.65 4.1e-10
36.15 6.4e-10
36.65 3.8e-10
37.15 6.0e-10
37.65 4.0e-10
38.15 6.5e-10
38.65 3.9e-10
39.15 6.2e-10
39.65 4.1e-10
40.15 6.6e-10
40.65 3.8e-10
41.15 6.1e-10
41.65 4.0e-10
42.15 6.4e-10
42.65 3.9e-10
43.15 6.3e-10
43.65 3.7e-10
44.15 6.5e-10
44.65 4.1e-10
45.15 6.0e-10
45.65 3.9e-10
46.15 6.4e-10
46.65 4.0e-10
47.15 6.6e-10
47.65 3.8e-10
48.15 6.2e-10
48.65 4.1e-10
49.15 6.3e-10
49.65 3.9e-10
50.3 6.5e-10
51.1 4.0e-10
51.9 5.6e-10
52.7 3.8e-10
53.5 6.4e-10
54.3 4.1e-10
55.1 5.7e-10
55.9 3.9e-10
56.7 6.6e-10
57.5 4.0e-10
58.3 5.5e-10
59.1 3.8e-10
59.9 6.0e-10
60.7 4.1e-10
61.5 5.8e-10
62.3 3.9e-10
63.1 6.5e-10
63.9 4.0e-10
64.7 5.6e-10
65.5 3.7e-10
66.3 6.3e-10
67.1 4.1e-10
67.9 5.7e-10
68.7 3.9e-10
69.5 6.1e-10
70.3 4.0e-10
71.1 5.5e-10
71.9 3.8e-10
72.7 6.5e-10
73.5 4.1e-10
74.3 5.6e-10
75.1 3.9e-10
75.9 6.0e-10
76.7 4.0e-10
77.5 5.8e-10
78.3 3.8e-10
79.1 6.3e-10
80.1 4.1e-10
81.4 5.6e-10
82.7 3.9e-10
84.0 6.1e-10
85.3 4.0e-10
86.6 5.5e-10
87.9 3.7e-10
89.2 6.2e-10
90.5 4.1e-10
91.8 5.7e-10
93.1 3.9e-10
94.4 6.0e-10
95.7 4.0e-10
97.0 5.6e-10
98.3 3.8e-10
99.6 6.3e-10
100.9 4.1e-10
102.2 5.8e-10
103.5 3.9e-10
104.8 6.2e-10
106.1 4.0e-10
107.4 5.5e-10
108.7 3.8e-10
110.0 6.6e-10
111.3 4.1e-10
112.6 5.6e-10
113.9 3.9e-10
115.2 6.4e-10
116.5 4.0e-10
117.8 5.7e-10
119.1 3.7e-10
120.4 6.5e-10
121.7 4.1e-10
123.0 5.5e-10
124.3 3.9e-10
125.6 6.6e-10
126.9 4.0e-10
128.2 5.6e-10
130 3.8e-10
132 6.4e-10
134 4.1e-10
136 5.7e-10
138 3.9e-10
140 6.5e-10
142 4.0e-10
144 5.5e-10
146 3.8e-10
148 6.6e-10
150 4.1e-10
152 5.6e-10
154 3.9e-10
156 6.4e-10
158 4.0e-10
160 5.8e-10
162 3.7e-10
164 6.5e-10
166 4.1e-10
168 5.5e-10
170 3.9e-10
172 6.7e-10
174 4.0e-10
176 5.7e-10
178 3.8e-10
180 6.4e-10
182 4.1e-10
184 5.6e-10
186 3.9e-10
188 6.5e-10
190 4.0e-10
192 5.5e-10
194 3.8e-10
196 6.2e-10
198 4.1e-10
200 5.7e-10
}\Vtwohigh

\pgfplotstableread{
f v
2.01 7.5e-10
2.015 9.4e-10
2.050 7.1e-10
2.106 8.25e-10
2.163 6.6e-10
2.221 7.1e-10
2.261 6.2e-10
2.322 9.0e-10
2.385 6.1e-10
2.449 7.4e-10
2.515 5.3e-10
2.560 6.5e-10
2.590 5.8e-10
2.606 1.6e-8
2.622 6.0e-10
2.630 7.1e-10
2.677 5.0e-10
2.725 6.35e-10
2.773 8.8e-10
2.823 6.9e-10
2.873 6.2e-10
2.951 8.4e-10
3.031 7.1e-10
3.097 8.4e-10
3.169 4.8e-10
3.226 6.35e-10
3.313 8.25e-10
3.402 6.8e-10
3.463 7.4e-10
3.557 5.7e-10
3.653 7.9e-10
3.719 6.2e-10
3.819 5.3e-10
3.922 7.1e-10
4.029 1.1e-9
4.101 7.9e-10
4.212 6.35e-10
4.288 9.8e-10
4.365 1.15e-9
4.443 8.8e-10
4.522 7.1e-10
4.644 5.0e-10
4.727 7.9e-10
4.811 9.4e-10
4.897 8.8e-10
5.029 6.5e-10
5.146 8.4e-10
5.257 1.15e-9
5.352 1.43e-9
5.428 2.52e-9
5.546 9.0e-10
5.645 2.12e-9
5.746 2.52e-9
5.849 1.37e-9
5.975 1.78e-9
6.114 2.21e-9
6.246 3.35e-9
6.336 2.31e-9
6.449 1.37e-9
6.565 1.70e-9
6.683 1.10e-9
6.803 1.94e-9
6.924 1.70e-9
7.086 2.03e-9
7.239 2.36e-9
7.396 1.37e-9
7.568 1.78e-9
7.745 2.21e-9
7.912 1.70e-9
8.054 1.90e-9
8.228 1.22e-9
8.375 2.12e-9
8.570 2.36e-9
8.770 2.63e-9
8.927 1.63e-9
9.120 2.12e-9
9.367 2.21e-9
9.585 1.86e-9
9.792 2.52e-9
9.90 1.5e-9
9.93 1.28e-8
9.96 1.6e-9
10.05 2.0e-9
10.15 1.5e-9
10.25 2.8e-9
10.35 1.75e-9
10.45 2.6e-9
10.55 1.9e-9
10.62 4.0e-9
10.7 2.0e-9
10.8 3.0e-9
10.9 2.1e-9
11.0 3.2e-9
11.1 2.2e-9
11.2 3.6e-9
11.3 2.4e-9
11.42 4.2e-9
11.5 2.6e-9
11.6 3.8e-9
11.7 2.8e-9
11.8 4.6e-9
11.9 3.0e-9
12.0 5.0e-9
12.1 6.2e-9
12.2 3.4e-9
12.3 5.2e-9
12.4 3.7e-9
12.5 5.6e-9
12.6 4.0e-9
12.7 6.0e-9
12.8 4.6e-9
12.9 3.3e-8
12.98 5.5e-9
13.08 4.5e-9
13.15 5.0e-8
13.25 4.2e-9
13.35 3.0e-9
13.45 4.6e-9
13.55 2.8e-9
13.65 4.2e-9
13.75 3.2e-9
13.88 7.6e-9
13.98 3.0e-9
14.1 3.8e-9
14.2 2.6e-9
14.3 3.9e-9
14.4 2.4e-9
14.5 3.6e-9
14.6 2.7e-9
14.7 3.8e-9
14.8 2.2e-9
14.9 3.2e-9
15.0 1.9e-9
15.1 3.0e-9
15.2 1.7e-9
15.3 2.6e-9
15.45 1.5e-9
15.6 2.3e-9
15.75 1.2e-9
15.9 1.9e-9
16.0 1.05e-9
16.1 5.5e-9
16.2 1.3e-9
16.35 2.8e-9
16.5 6.5e-9
16.6 9.2e-9
16.7 8.8e-9
16.8 9.3e-9
16.9 2.0e-9
17.0 6.0e-9
17.1 1.1e-9
17.25 1.6e-9
17.4 8.0e-10
17.55 1.3e-9
17.7 7.0e-10
17.85 1.1e-9
18.0 6.5e-10
18.15 1.4e-9
18.3 6.8e-10
18.42 3.5e-9
18.55 6.4e-10
18.7 1.2e-9
18.85 5.8e-10
19.0 1.7e-9
19.15 6.0e-10
19.3 9.5e-10
19.45 5.2e-10
19.6 1.05e-9
19.75 5.0e-10
19.9 8.0e-10
20.05 4.6e-10
20.3 7.0e-10
20.6 1.3e-9
20.9 3.6e-10
21.2 7.2e-10
21.5 3.9e-10
21.8 6.6e-10
22.1 3.4e-10
22.4 9.0e-10
22.7 3.7e-10
23.0 7.0e-10
23.3 3.3e-10
23.6 1.25e-9
23.9 3.8e-10
24.2 6.8e-10
24.5 3.2e-10
24.8 2.3e-9
25.1 3.5e-10
25.4 6.4e-10
25.7 3.4e-10
26.0 8.0e-10
26.3 3.1e-10
26.6 6.9e-10
26.9 2.8e-9
27.2 3.6e-10
27.5 6.6e-10
27.8 1.0e-9
28.1 3.3e-10
28.4 6.2e-10
28.7 1.6e-9
29.0 3.0e-10
29.3 6.4e-10
29.6 2.0e-9
29.9 3.4e-10
30.4 6.0e-10
30.9 2.6e-9
31.4 3.2e-10
31.9 5.8e-10
32.4 1.5e-9
32.9 3.0e-10
33.4 6.1e-10
33.9 1.1e-9
34.4 3.3e-10
34.9 5.6e-10
35.4 2.9e-10
35.9 1.0e-9
36.4 3.1e-10
36.9 5.9e-10
37.4 2.8e-10
37.9 6.3e-10
38.4 3.2e-10
38.9 1.9e-9
39.4 2.9e-10
39.9 5.7e-10
40.4 1.2e-9
40.9 3.0e-10
41.4 5.4e-10
41.9 2.8e-10
42.4 6.0e-10
42.9 3.1e-10
43.4 9.0e-10
43.9 2.9e-10
44.4 5.6e-10
44.9 9.5e-10
45.4 3.0e-10
45.9 5.8e-10
46.4 2.7e-10
46.9 5.4e-10
47.4 3.2e-10
47.9 8.4e-10
48.4 2.8e-10
48.9 5.7e-10
49.4 3.0e-10
49.9 6.0e-10
50.7 2.9e-10
51.5 5.5e-10
52.3 7.5e-10
53.1 3.1e-10
53.9 5.8e-10
54.7 2.8e-10
55.5 5.4e-10
56.3 3.2e-10
57.1 9.0e-10
57.9 2.9e-10
58.7 5.9e-10
59.5 3.0e-10
60.3 5.6e-10
61.1 2.7e-10
61.9 6.0e-10
62.7 3.1e-10
63.5 5.3e-10
64.3 2.9e-10
65.1 5.7e-10
65.9 3.3e-10
66.7 5.4e-10
67.5 2.8e-10
68.3 5.9e-10
69.1 3.0e-10
69.9 5.5e-10
70.7 2.7e-10
71.5 5.8e-10
72.3 3.2e-10
73.1 5.2e-10
73.9 2.9e-10
74.7 6.1e-10
75.5 3.1e-10
76.3 5.4e-10
77.1 2.8e-10
77.9 5.7e-10
78.7 3.0e-10
79.5 5.3e-10
80.8 2.9e-10
82.1 5.9e-10
83.4 3.2e-10
84.7 5.5e-10
86.0 2.7e-10
87.3 5.8e-10
88.6 3.0e-10
89.9 5.4e-10
91.2 2.8e-10
92.5 6.0e-10
93.8 3.1e-10
95.1 5.3e-10
96.4 2.9e-10
97.7 5.7e-10
99.0 2.6e-10
100.3 5.9e-10
101.6 3.0e-10
102.9 5.5e-10
104.2 2.8e-10
105.5 5.8e-10
106.8 3.2e-10
108.1 5.3e-10
109.4 2.9e-10
110.7 6.0e-10
112.0 3.0e-10
113.3 5.6e-10
114.6 2.7e-10
115.9 5.4e-10
117.2 3.1e-10
118.5 5.9e-10
119.8 2.9e-10
121.1 5.7e-10
122.4 3.0e-10
123.7 5.2e-10
125.0 2.8e-10
126.3 6.1e-10
127.6 3.1e-10
128.9 5.5e-10
131 2.9e-10
133 5.8e-10
135 3.2e-10
137 5.4e-10
139 2.8e-10
141 5.9e-10
143 3.0e-10
145 5.6e-10
147 2.7e-10
149 6.0e-10
151 3.1e-10
153 5.3e-10
155 2.9e-10
157 5.7e-10
159 3.0e-10
161 5.5e-10
163 2.8e-10
165 5.8e-10
167 3.2e-10
169 5.4e-10
171 2.9e-10
173 6.1e-10
175 3.0e-10
177 5.6e-10
179 2.7e-10
181 5.9e-10
183 3.1e-10
185 5.4e-10
187 2.9e-10
189 6.0e-10
191 3.0e-10
193 5.7e-10
195 2.8e-10
197 5.5e-10
199 3.1e-10
200 4.6e-10
}\Vthreehigh

\begin{document}
\begin{tikzpicture}
\path[use as bounding box] (0,0) rectangle (1728pt,1152pt);
\begin{axis}[
  at={(215.6pt,126.7pt)}, anchor=south west,
  scale only axis, width=1340.3pt, height=887.4pt,
  xmode=log, ymode=log,
  xmin=0.01, xmax=200, ymin=4.4e-11, ymax=1.45e-7,
  xtick={0.01,0.1,1,10,100},
  xticklabels={10\textsuperscript{−2},10\textsuperscript{−1},10\textsuperscript{0},10\textsuperscript{1},10\textsuperscript{2}},
  ytick={1e-10,1e-9,1e-8,1e-7},
  yticklabels={10\textsuperscript{−10},10\textsuperscript{−9},10\textsuperscript{−8},10\textsuperscript{−7}},
  minor xtick={0.02,0.03,0.04,0.05,0.06,0.07,0.08,0.09,0.2,0.3,0.4,0.5,0.6,0.7,0.8,0.9,2,3,4,5,6,7,8,9,20,30,40,50,60,70,80,90},
  minor ytick={5e-11,6e-11,7e-11,8e-11,9e-11,2e-10,3e-10,4e-10,5e-10,6e-10,7e-10,8e-10,9e-10,2e-9,3e-9,4e-9,5e-9,6e-9,7e-9,8e-9,9e-9,2e-8,3e-8,4e-8,5e-8,6e-8,7e-8,8e-8,9e-8},
  grid=both,
  major grid style={draw=gridc, line width=0.8pt},
  minor grid style={draw=gridc, line width=0.8pt},
  tick align=outside, tick pos=left,
  major tick length=3.5pt, minor tick length=2pt,
  major tick style={black, line width=0.8pt},
  minor tick style={black, line width=0.6pt},
  xticklabel shift=3.5pt, yticklabel shift=3.5pt,
  ticklabel style={font=\fontsize{10}{12}\selectfont},
  axis line style={black, line width=0.8pt},
  every axis plot/.append style={line width=3pt, line join=round},
  no markers,
  legend cell align=left,
  legend image code/.code={\draw[#1] (0pt,0pt) -- (40pt,0pt);},
  legend style={at={(1,1)}, anchor=north east, xshift=-10pt, yshift=-10pt,
    draw=black!20, line width=1pt, rounded corners=4pt, fill=white,
    fill opacity=0.8, draw opacity=0.8, text opacity=1,
    inner xsep=8pt, inner ysep=7.6pt, row sep=11.2pt, column sep=16pt,
    font=\fontsize{20}{24}\selectfont,
    nodes={inner sep=0pt, text height=15pt, text depth=4.5pt}},
]
\addplot[cH1] table[x=f,y=v]{\Hone}; \addlegendentry{HAM2\_CPSINF\_H1}
\addplot[cH2] table[x=f,y=v]{\Htwo}; \addlegendentry{HAM2\_CPSINF\_H2}
\addplot[cH3] table[x=f,y=v]{\Hthree}; \addlegendentry{HAM2\_CPSINF\_H3}
\addplot[cV1] table[x=f,y=v]{\Vlow}; \addlegendentry{HAM2\_CPSINF\_V1}
\addplot[cV1, forget plot] table[x=f,y=v]{\Vonehigh};
\addplot[cV2] table[x=f,y=v]{\Vlow}; \addlegendentry{HAM2\_CPSINF\_V2}
\addplot[cV2, forget plot] table[x=f,y=v]{\Vtwohigh};
\addplot[cV3] table[x=f,y=v]{\Vlow}; \addlegendentry{HAM2\_CPSINF\_V3}
\addplot[cV3, forget plot] table[x=f,y=v]{\Vthreehigh};
\addplot[cADE] coordinates {(0.01,5e-9) (0.1,1e-9) (0.7,4e-10) (100,4e-10)}; \addlegendentry{ADE 1mm noise}
\end{axis}
\node[font=\fontsize{26}{31}\selectfont, anchor=base] at (864pt,1109.5pt) {HAM2 CPS Spectra};
\node[font=\fontsize{26}{31}\selectfont, anchor=base] at (864pt,1079.8pt) {1243587600 to 1243588200};
\node[font=\fontsize{18}{22}\selectfont, anchor=base] at (885.6pt,87.8pt) {Freq (hz)};
\node[font=\fontsize{18}{22}\selectfont, rotate=90] at (168.5pt,562pt) {m/rthz};
\node[font=\fontsize{12}{14}\selectfont] at (880pt,62.6pt) {calibration only >10hz};
\node[font=\fontsize{12}{14}\selectfont, rotate=90] at (1648.8pt,518.9pt) {/opt/rtcds/userapps/trunk/sys/h1/scripts/HAM\_cps\_spectra.py};
\end{tikzpicture}
\end{document}
